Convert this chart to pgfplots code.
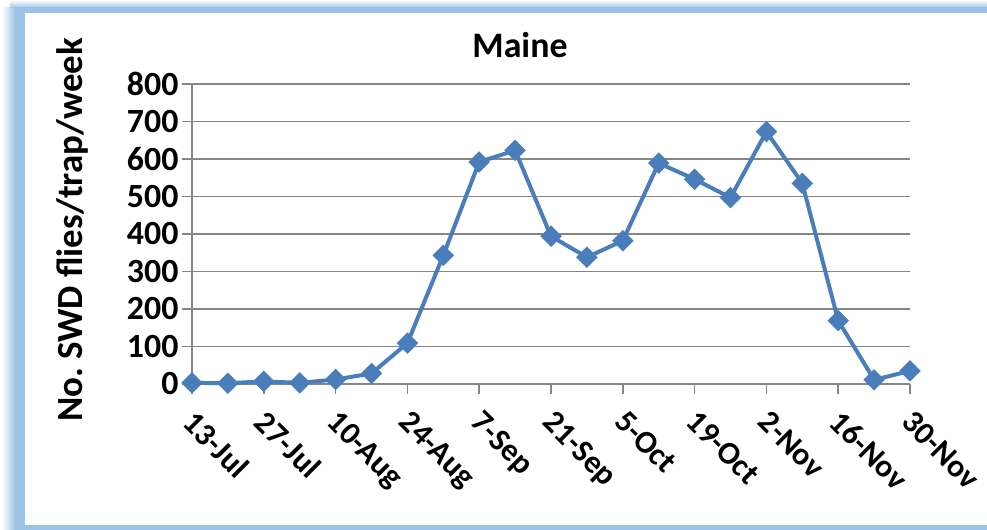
\documentclass[border=0pt]{standalone}
\usepackage{fontspec}
\setmainfont{Carlito}
\usepackage{pgfplots}
\pgfplotsset{compat=1.18}
\definecolor{frameblue}{RGB}{157,195,230}
\definecolor{lineblue}{RGB}{74,126,187}
\definecolor{gridgray}{RGB}{134,134,134}

\begin{document}
\begin{tikzpicture}[x=1bp,y=1bp]
\useasboundingbox (0,0) rectangle (987,530);
% frame with a soft shadow, as in the Excel chart area
\shade[left color=white, right color=frameblue] (2,-10) rectangle (15,522);
\shade[top color=white, bottom color=frameblue] (10,522) rectangle (1000,530);
\fill[frameblue] (15,-10) rectangle (1000,523);
\fill[white] (25,5) rectangle (990,517);

\begin{axis}[
    at={(192bp,146bp)}, anchor=south west,
    scale only axis,
    width=718bp, height=300bp,
    xmin=0, xmax=20, ymin=0, ymax=800,
    axis lines=left,
    axis line style={-, gridgray, line width=1.5bp},
    ymajorgrids,
    grid style={gridgray, line width=1.5bp},
    xtick={0,2,...,20},
    xticklabels={13-Jul,27-Jul,10-Aug,24-Aug,7-Sep,21-Sep,5-Oct,19-Oct,2-Nov,16-Nov,30-Nov},
    ytick={0,100,...,800},
    tick align=outside,
    major tick length=10bp,
    tick style={gridgray, line width=1.5bp},
    yticklabel style={anchor=east, font=\bfseries\fontsize{34}{34}\selectfont},
    /pgf/number format/assume math mode=true,
    xticklabel style={font=\bfseries\fontsize{32}{32}\selectfont,
        xshift=5bp, yshift=-10bp, rotate=-45, anchor=north west},
    clip=false,
]
\addplot[lineblue, line width=4bp, mark=square*, mark size=5.6bp,
    mark options={rotate=45, solid, fill=lineblue}] coordinates {
    (0,3) (1,2) (2,7) (3,3) (4,12) (5,28) (6,109) (7,343) (8,592) (9,623)
    (10,394) (11,338) (12,382) (13,589) (14,546) (15,497) (16,673) (17,535)
    (18,169) (19,11) (20,35)
};
\end{axis}

\node[anchor=base, font=\bfseries\fontsize{36}{36}\selectfont] at (520,472) {Maine};
\node[anchor=base, rotate=90, font=\bfseries\fontsize{37}{37}\selectfont] at (82,300) {No.\ SWD flies/trap/week};
\end{tikzpicture}
\end{document}
